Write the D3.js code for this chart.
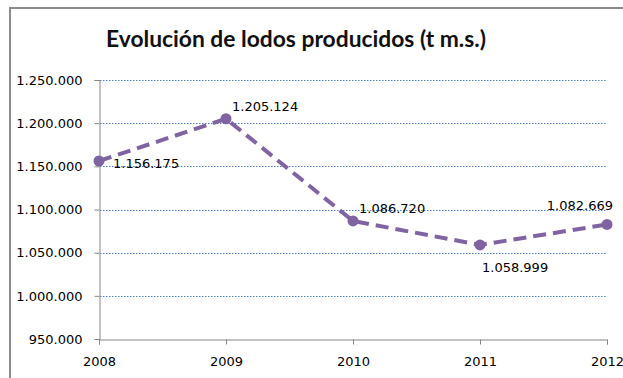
<!DOCTYPE html>
<html>
<head>
<meta charset="utf-8">
<script src="https://cdn.jsdelivr.net/npm/d3@7"></script>
<style>
  html, body { margin: 0; padding: 0; background: #fff; }
  svg { display: block; }
</style>
</head>
<body>
<svg id="chart" width="623" height="378"></svg>
<script>
// Sludge produced per year (tonnes of dry matter)
const years = [2008, 2009, 2010, 2011, 2012];
const sludge = [1156175, 1205124, 1086720, 1058999, 1082669];
const yTicks = [950000, 1000000, 1050000, 1100000, 1150000, 1200000, 1250000];
const title = "Evolución de lodos producidos (t m.s.)";
// where each value label sits relative to its point
const labelPlacement = ["right", "aboveRight", "aboveRight", "below", "aboveLeft"];

const fmt = v => d3.format(",")(v).replace(/,/g, ".");

const svg = d3.select("#chart");
const W = 623, H = 378;
const margin = { left: 99, right: 15, top: 80, bottom: 40 };

// chart frame
svg.append("path")
  .attr("d", `M10,${H} L10,8 L${W},8`)
  .attr("fill", "none").attr("stroke", "#8c8c8c").attr("stroke-width", 2);

svg.append("text")
  .attr("x", 106).attr("y", 47)
  .attr("textLength", 380).attr("lengthAdjust", "spacingAndGlyphs")
  .attr("font-family", "Lato, 'Open Sans', sans-serif")
  .attr("font-weight", "bold")
  .attr("font-size", 22)
  .attr("fill", "#111")
  .text(title);

const x = d3.scalePoint().domain(years).range([margin.left, 607]);
const y = d3.scaleLinear().domain([950000, 1250000]).range([339, margin.top]);

// horizontal gridlines
svg.append("g").selectAll("line")
  .data(yTicks.filter(t => t > 950000))
  .join("line")
  .attr("x1", margin.left + 1).attr("x2", 607)
  .attr("y1", d => Math.round(y(d)) + 0.5).attr("y2", d => Math.round(y(d)) + 0.5)
  .attr("stroke", "#4f81bd").attr("stroke-width", 1)
  .attr("stroke-dasharray", "1.5,1.5");

const axisFont = "'DejaVu Sans', Verdana, sans-serif";

// y axis
const yAxis = svg.append("g")
  .attr("transform", `translate(${margin.left + 0.5},0)`)
  .call(d3.axisLeft(y).tickValues(yTicks).tickFormat(fmt).tickSize(5).tickPadding(12));
yAxis.selectAll("path, line").attr("stroke", "#868686");
yAxis.selectAll("text").attr("font-family", axisFont).attr("font-size", 13).attr("fill", "#000");

// x axis
const xAxis = svg.append("g")
  .attr("transform", `translate(0,${Math.round(y(950000)) + 0.5})`)
  .call(d3.axisBottom(x).tickFormat(d3.format("d")).tickSize(5).tickPadding(12));
xAxis.selectAll("path, line").attr("stroke", "#868686");
xAxis.selectAll("text").attr("font-family", axisFont).attr("font-size", 13).attr("fill", "#000");

// series line
const pts = years.map((yr, i) => ({ yr, v: sludge[i], pos: labelPlacement[i] }));
svg.append("path")
  .datum(pts)
  .attr("d", d3.line().x(d => x(d.yr)).y(d => y(d.v)))
  .attr("fill", "none")
  .attr("stroke", "#8064a2")
  .attr("stroke-width", 4)
  .attr("stroke-dasharray", "13,7");

svg.append("g").selectAll("circle")
  .data(pts).join("circle")
  .attr("cx", d => x(d.yr)).attr("cy", d => y(d.v))
  .attr("r", 5.5).attr("fill", "#8064a2");

// value labels
const offsets = {
  right: { dx: 14, dy: 7, anchor: "start" },
  aboveRight: { dx: 6, dy: -8, anchor: "start" },
  below: { dx: 2, dy: 27, anchor: "start" },
  aboveLeft: { dx: 6, dy: -14, anchor: "end" }
};
svg.append("g").selectAll("text")
  .data(pts).join("text")
  .attr("x", d => x(d.yr) + offsets[d.pos].dx)
  .attr("y", d => y(d.v) + offsets[d.pos].dy)
  .attr("text-anchor", d => offsets[d.pos].anchor)
  .attr("font-family", axisFont).attr("font-size", 13).attr("fill", "#000")
  .text(d => fmt(d.v));
</script>
</body>
</html>
